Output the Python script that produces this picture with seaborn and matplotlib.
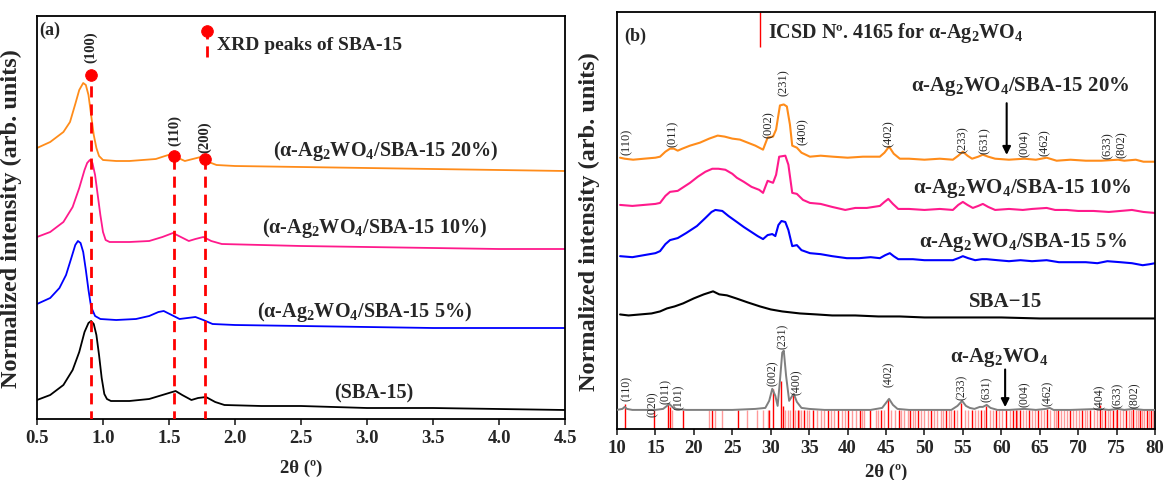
import matplotlib
matplotlib.use("Agg")
import matplotlib.pyplot as plt
import seaborn as sns

# ---------------- panel (a): low-angle XRD, 2theta 0.5-4.5 ----------------
a_x_20 = [0.5, 0.6, 0.7, 0.75, 0.79, 0.82, 0.85, 0.87, 0.89, 0.91, 0.93, 0.95, 0.97, 1.0, 1.1, 1.2,
          1.3, 1.4, 1.47, 1.52, 1.57, 1.62, 1.68, 1.74, 1.8, 1.86, 2.0, 2.5, 3.0, 3.5, 4.0, 4.5]
a_y_20 = [2.92, 2.98, 3.08, 3.18, 3.36, 3.50, 3.57, 3.55, 3.45, 3.25, 3.05, 2.92, 2.84, 2.80, 2.79, 2.79,
          2.80, 2.81, 2.84, 2.86, 2.82, 2.79, 2.81, 2.83, 2.78, 2.75, 2.74, 2.73, 2.72, 2.71, 2.70, 2.69]

a_x_10 = [0.5, 0.6, 0.7, 0.77, 0.82, 0.86, 0.88, 0.9, 0.92, 0.94, 0.96, 0.98, 1.0, 1.02, 1.05, 1.2,
          1.35, 1.45, 1.53, 1.59, 1.65, 1.7, 1.76, 1.82, 1.9, 2.2, 2.5, 3.0, 3.5, 4.0, 4.5]
a_y_10 = [2.03, 2.08, 2.18, 2.33, 2.52, 2.70, 2.77, 2.80, 2.77, 2.65, 2.45, 2.25, 2.08, 2.00, 1.98, 1.98,
          1.99, 2.03, 2.07, 2.03, 1.99, 2.01, 2.03, 1.99, 1.96, 1.95, 1.94, 1.93, 1.92, 1.91, 1.91]

a_x_5 = [0.5, 0.6, 0.67, 0.72, 0.76, 0.79, 0.81, 0.83, 0.85, 0.87, 0.89, 0.91, 0.94, 0.98, 1.1, 1.25,
         1.35, 1.42, 1.46, 1.52, 1.58, 1.64, 1.7, 1.76, 1.83, 2.0, 2.5, 3.0, 3.5, 4.5]
a_y_5 = [1.36, 1.42, 1.52, 1.65, 1.82, 1.95, 1.99, 1.97, 1.88, 1.70, 1.50, 1.33, 1.24, 1.21, 1.20, 1.21,
         1.24, 1.28, 1.29, 1.25, 1.21, 1.22, 1.23, 1.20, 1.16, 1.15, 1.14, 1.13, 1.12, 1.12]

a_x_sba = [0.5, 0.6, 0.7, 0.77, 0.82, 0.86, 0.89, 0.91, 0.93, 0.95, 0.97, 0.99, 1.01, 1.03, 1.06, 1.2,
           1.35, 1.45, 1.55, 1.6, 1.67, 1.72, 1.78, 1.85, 1.92, 2.2, 2.5, 3.0, 3.5, 4.0, 4.5]
a_y_sba = [0.40, 0.45, 0.55, 0.70, 0.88, 1.08, 1.17, 1.19, 1.16, 1.05, 0.85, 0.62, 0.46, 0.41, 0.39, 0.39,
           0.41, 0.45, 0.49, 0.45, 0.40, 0.42, 0.43, 0.38, 0.35, 0.34, 0.34, 0.32, 0.32, 0.31, 0.30]

a_peak_x = [0.91, 1.54, 1.77]
a_peak_y = [3.65, 2.84, 2.81]
a_peak_hkl = ["(100)", "(110)", "(200)"]
a_hkl_y = [3.94, 3.11, 3.04]

a_labels = ["(\u03b1-Ag$_2$WO$_4$/SBA-15 20%)", "(\u03b1-Ag$_2$WO$_4$/SBA-15 10%)",
            "(\u03b1-Ag$_2$WO$_4$/SBA-15 5%)", "(SBA-15)"]
a_label_x = [3.14, 3.06, 2.98, 3.05]
a_label_y = [2.90, 2.13, 1.29, 0.48]

# ---------------- panel (b): wide-angle XRD, 2theta 10-80 ----------------
b_x_20 = [10.4, 11.0, 12.1, 13.5, 15.0, 15.6, 16.3, 16.9, 17.4, 17.9, 18.5, 19.5, 20.8, 22.0, 23.1, 24.0,
          25.0, 26.0, 27.0, 28.0, 29.0, 29.6, 30.3, 30.7, 31.2, 31.7, 32.1, 32.5, 32.8, 33.4, 34.0, 35.1,
          36.5, 38.1, 40.0, 42.0, 44.2, 44.8, 45.4, 46.0, 46.8, 48.0, 50.0, 52.0, 53.7, 54.4, 55.0, 55.6,
          56.2, 57.0, 57.6, 58.3, 59.2, 61.0, 63.0, 64.5, 65.9, 67.2, 69.0, 71.0, 73.0, 75.2, 76.0, 77.5,
          78.5, 80.0]
b_y_20 = [2.92, 2.91, 2.90, 2.91, 2.92, 2.93, 2.98, 3.01, 3.01, 2.99, 3.01, 3.04, 3.07, 3.11, 3.14, 3.13,
          3.11, 3.10, 3.07, 3.04, 3.00, 3.12, 3.13, 3.20, 3.44, 3.45, 3.43, 3.25, 3.04, 3.02, 2.97, 2.93,
          2.94, 2.93, 2.92, 2.93, 2.93, 2.97, 3.03, 2.96, 2.91, 2.91, 2.90, 2.91, 2.90, 2.94, 2.98, 2.94,
          2.91, 2.93, 2.95, 2.93, 2.91, 2.90, 2.91, 2.90, 2.92, 2.89, 2.90, 2.89, 2.89, 2.90, 2.89, 2.90,
          2.88, 2.88]

b_x_10 = [10.4, 12.0, 13.5, 15.0, 15.6, 16.3, 16.9, 17.9, 18.7, 19.5, 20.5, 21.5, 22.4, 23.2, 24.1, 25.0,
          25.6, 26.5, 27.5, 28.5, 29.0, 29.6, 30.3, 30.7, 31.1, 31.9, 32.3, 32.8, 33.4, 34.2, 35.1, 36.5,
          38.0, 39.7, 41.0, 42.5, 44.2, 44.8, 45.3, 45.9, 46.6, 48.0, 50.0, 52.0, 53.7, 54.4, 55.0, 55.6,
          56.3, 57.0, 57.6, 58.3, 59.2, 61.0, 62.8, 64.0, 65.9, 67.0, 68.5, 70.0, 72.0, 74.0, 75.5, 77.0,
          78.5, 80.0]
b_y_10 = [2.45, 2.44, 2.45, 2.46, 2.47, 2.54, 2.58, 2.59, 2.63, 2.67, 2.73, 2.78, 2.81, 2.81, 2.80, 2.76,
          2.72, 2.68, 2.63, 2.60, 2.57, 2.69, 2.67, 2.75, 2.93, 2.94, 2.85, 2.57, 2.56, 2.50, 2.47, 2.46,
          2.43, 2.40, 2.42, 2.42, 2.44, 2.48, 2.51, 2.46, 2.41, 2.41, 2.40, 2.41, 2.40, 2.45, 2.48, 2.45,
          2.42, 2.44, 2.46, 2.43, 2.40, 2.41, 2.40, 2.41, 2.42, 2.40, 2.40, 2.39, 2.39, 2.38, 2.39, 2.40,
          2.38, 2.37]

b_x_5 = [10.4, 12.0, 13.5, 15.0, 15.6, 16.3, 16.9, 17.9, 19.0, 20.4, 21.5, 22.3, 22.8, 23.7, 24.5, 25.6,
         26.5, 27.5, 28.3, 29.0, 29.6, 30.2, 30.6, 31.0, 31.4, 31.9, 32.3, 32.8, 33.4, 34.0, 35.1, 36.5,
         38.0, 39.9, 41.5, 43.0, 44.2, 44.9, 45.5, 46.0, 46.6, 48.5, 50.0, 52.0, 53.7, 54.4, 55.0, 55.7,
         56.6, 57.5, 58.1, 59.5, 61.0, 62.5, 64.0, 65.9, 67.5, 69.2, 71.0, 72.5, 73.8, 75.5, 77.0, 78.4,
         79.3, 80.0]
b_y_5 = [1.94, 1.93, 1.95, 1.97, 1.99, 2.06, 2.10, 2.12, 2.17, 2.24, 2.32, 2.38, 2.40, 2.39, 2.34, 2.28,
         2.23, 2.18, 2.14, 2.11, 2.15, 2.16, 2.14, 2.25, 2.29, 2.28, 2.20, 2.04, 2.05, 2.00, 1.97, 1.96,
         1.94, 1.92, 1.92, 1.93, 1.92, 1.95, 1.97, 1.94, 1.91, 1.91, 1.90, 1.90, 1.90, 1.92, 1.94, 1.92,
         1.90, 1.91, 1.91, 1.90, 1.89, 1.90, 1.89, 1.90, 1.88, 1.88, 1.88, 1.87, 1.89, 1.88, 1.87, 1.85,
         1.86, 1.87]

b_x_sba = [10.4, 11.5, 13.0, 14.5, 15.6, 16.5, 17.5, 18.6, 20.0, 21.3, 22.5, 23.3, 24.3, 25.5, 27.0, 28.6,
           30.0, 31.5, 33.8, 36.0, 38.0, 41.0, 44.0, 46.8, 50.0, 55.0, 60.0, 65.0, 70.0, 75.0, 80.0]
b_y_sba = [1.36, 1.35, 1.36, 1.37, 1.39, 1.42, 1.44, 1.47, 1.52, 1.56, 1.59, 1.56, 1.55, 1.52, 1.48, 1.44,
           1.41, 1.39, 1.37, 1.36, 1.35, 1.35, 1.34, 1.34, 1.33, 1.33, 1.33, 1.32, 1.32, 1.32, 1.32]

b_x_ref = [10.0, 10.7, 11.0, 11.3, 12.0, 14.0, 15.0, 16.0, 16.5, 16.8, 17.2, 17.7, 19.0, 22.0, 25.0, 28.0,
           29.3, 29.8, 30.2, 30.6, 30.9, 31.2, 31.5, 31.7, 32.0, 32.4, 32.8, 33.0, 33.4, 34.0, 35.0, 37.0,
           40.0, 43.0, 44.5, 45.0, 45.4, 45.9, 46.5, 48.0, 51.0, 53.5, 54.3, 54.9, 55.4, 55.9, 56.5, 57.2,
           57.6, 58.1, 58.6, 59.5, 61.0, 63.0, 64.5, 65.8, 66.3, 66.8, 69.0, 72.8, 74.0, 75.2, 76.0, 77.2,
           78.5, 80.0]
b_y_ref = [0.41, 0.42, 0.44, 0.42, 0.41, 0.41, 0.41, 0.42, 0.45, 0.47, 0.44, 0.42, 0.41, 0.41, 0.41, 0.42,
           0.43, 0.50, 0.62, 0.55, 0.45, 0.70, 0.98, 1.00, 0.75, 0.50, 0.55, 0.57, 0.49, 0.43, 0.42, 0.41,
           0.41, 0.41, 0.43, 0.48, 0.52, 0.46, 0.42, 0.41, 0.41, 0.41, 0.45, 0.50, 0.45, 0.43, 0.42, 0.44,
           0.44, 0.46, 0.43, 0.41, 0.41, 0.42, 0.41, 0.42, 0.43, 0.41, 0.41, 0.42, 0.41, 0.42, 0.41, 0.42,
           0.41, 0.41]

# ICSD 4165 reference sticks
stick_strong_x = [11.0, 14.8, 16.6, 16.9, 18.6, 22.3, 25.8, 29.8, 30.3, 31.4, 31.6, 32.9, 33.5, 34.3,
                  35.5, 37.4, 38.7, 40.1, 41.6, 42.9, 44.4, 45.3, 46.7, 48.1, 49.2, 50.9, 52.8, 53.9,
                  54.8, 56.2, 57.4, 58.0, 59.3, 60.6, 61.5, 61.9, 62.4, 63.6, 64.8, 66.0, 67.4, 68.9,
                  70.5, 71.6, 72.8, 73.5, 74.6, 75.1, 76.2, 77.2, 78.0, 78.9, 79.5]
stick_strong_h = [0.47, 0.41, 0.47, 0.44, 0.41, 0.41, 0.41, 0.41, 0.62, 0.70, 0.45, 0.58, 0.41, 0.41,
                  0.41, 0.41, 0.41, 0.41, 0.41, 0.41, 0.41, 0.52, 0.41, 0.41, 0.41, 0.41, 0.41, 0.41,
                  0.48, 0.41, 0.41, 0.45, 0.41, 0.41, 0.41, 0.41, 0.41, 0.41, 0.41, 0.42, 0.41, 0.41,
                  0.41, 0.41, 0.46, 0.41, 0.41, 0.42, 0.41, 0.42, 0.41, 0.41, 0.41]
stick_faint_x = [17.1, 22.0, 22.7, 23.7, 26.9, 28.2, 29.0, 29.6, 31.8, 32.2, 32.5, 33.1, 33.7, 34.0,
                 34.7, 35.0, 36.0, 36.5, 36.9, 37.8, 38.2, 39.3, 39.7, 40.6, 41.1, 41.9, 42.2, 43.7,
                 44.0, 44.7, 45.7, 46.2, 47.0, 47.4, 47.9, 48.5, 48.8, 49.6, 50.0, 50.4, 51.3, 51.7,
                 52.1, 52.4, 53.2, 53.5, 54.2, 55.3, 55.7, 56.6, 57.0, 57.8, 58.5, 58.9, 59.7, 60.1,
                 61.1, 62.0, 62.8, 63.2, 64.0, 64.4, 65.2, 65.6, 66.4, 66.8, 67.1, 67.8, 68.2, 68.5,
                 69.3, 69.7, 70.1, 70.9, 71.2, 72.0, 72.4, 73.1, 73.9, 74.2, 74.9, 75.5, 75.8, 76.6,
                 76.9, 77.5, 77.8, 78.3, 78.6, 79.2, 79.8]

b_top_hkl = ["(110)", "(011)", "(002)", "(231)", "(400)", "(402)", "(233)", "(631)", "(004)",
             "(462)", "(633)", "(802)"]
b_top_hkl_x = [11.3, 17.2, 29.8, 31.7, 34.2, 45.4, 55.0, 57.8, 63.0, 65.6, 73.8, 75.7]
b_top_hkl_y = [3.09, 3.17, 3.26, 3.68, 3.19, 3.17, 3.11, 3.10, 3.07, 3.08, 3.05, 3.06]

b_bot_hkl = ["(110)", "(020)", "(011)", "(101)", "(002)", "(231)", "(400)", "(402)", "(233)",
             "(631)", "(004)", "(462)", "(404)", "(633)", "(802)"]
b_bot_hkl_x = [11.3, 14.7, 16.3, 18.0, 30.3, 31.6, 33.4, 45.4, 54.9, 58.1, 63.0, 66.1, 72.8, 75.2, 77.4]
b_bot_hkl_y = [0.63, 0.48, 0.60, 0.55, 0.78, 1.15, 0.70, 0.77, 0.64, 0.62, 0.58, 0.58, 0.55, 0.56, 0.57]

b_labels = ["\u03b1-Ag$_2$WO$_4$/SBA-15 20%", "\u03b1-Ag$_2$WO$_4$/SBA-15 10%",
            "\u03b1-Ag$_2$WO$_4$/SBA-15 5%", "SBA\u221215", "\u03b1-Ag$_2$WO$_4$"]
b_label_x = [62.4, 62.7, 62.8, 60.5, 59.8]
b_label_y = [3.64, 2.62, 2.09, 1.49, 0.94]

ORANGE = "#ff8c1a"
PINK = "#ff1a8c"
BLUE = "#0000ff"
BLACK = "#000000"
RED = "#ff0000"

sns.set_theme(style="ticks")
plt.rcParams["font.family"] = ["Liberation Serif", "DejaVu Serif"]
plt.rcParams["font.weight"] = "bold"
plt.rcParams["mathtext.fontset"] = "custom"
plt.rcParams["mathtext.rm"] = "Liberation Serif:bold"
plt.rcParams["mathtext.it"] = "Liberation Serif:bold:italic"
plt.rcParams["mathtext.bf"] = "Liberation Serif:bold"

fig = plt.figure(figsize=(11.68, 4.81), dpi=100)
# axes boxes in figure fractions (left, bottom, width, height)
ax_a = fig.add_axes([37 / 1168, 61 / 481, 528 / 1168, 403 / 481])
ax_b = fig.add_axes([617 / 1168, 51 / 481, 538 / 1168, 417 / 481])

# ---- panel (a) ----
for xs, ys, c in [(a_x_20, a_y_20, ORANGE), (a_x_10, a_y_10, PINK),
                  (a_x_5, a_y_5, BLUE), (a_x_sba, a_y_sba, BLACK)]:
    sns.lineplot(x=xs, y=ys, color=c, lw=1.3, sort=False, ax=ax_a)

ax_a.vlines(a_peak_x, 0, a_peak_y, colors=RED, linestyles=(0, (4, 2.5)), lw=2, zorder=4)
sns.scatterplot(x=a_peak_x, y=a_peak_y, color=RED, edgecolor=RED, s=70, zorder=5, ax=ax_a)
for hx, hy, t in zip(a_peak_x, a_hkl_y, a_peak_hkl):
    ax_a.text(hx, hy, t, rotation=90, ha="center", va="center", fontsize=10.5, fontweight="bold")
for lx, ly, t in zip(a_label_x, a_label_y, a_labels):
    ax_a.text(lx, ly, t, ha="center", va="center", fontsize=14.5, fontweight="bold")

# legend-like marker for SBA-15 peaks
ax_a.vlines([1.79], 3.83, 4.09, colors=RED, linestyles=(0, (4, 2.5)), lw=2)
sns.scatterplot(x=[1.79], y=[4.09], color=RED, edgecolor=RED, s=70, zorder=5, ax=ax_a)
ax_a.text(1.86, 3.96, "XRD peaks of SBA-15", ha="left", va="center", fontsize=14, fontweight="bold")
ax_a.text(0.52, 4.11, "(a)", ha="left", va="center", fontsize=13, fontweight="bold")

ax_a.set_xlim(0.5, 4.5)
ax_a.set_ylim(0.21, 4.24)
ax_a.set_xticks([0.5, 1.0, 1.5, 2.0, 2.5, 3.0, 3.5, 4.0, 4.5])
ax_a.set_xticklabels([f"{v:.1f}" for v in ax_a.get_xticks()])

# ---- panel (b) ----
ax_b.vlines(stick_faint_x, 0, 0.41, colors="#ff9a9a", lw=1.0, zorder=1)
ax_b.vlines(stick_strong_x, 0, stick_strong_h, colors=RED, lw=1.0, zorder=2)
sns.lineplot(x=b_x_ref, y=b_y_ref, color="#7f7f7f", lw=1.4, sort=False, ax=ax_b, zorder=3)
for xs, ys, c in [(b_x_20, b_y_20, ORANGE), (b_x_10, b_y_10, PINK),
                  (b_x_5, b_y_5, BLUE), (b_x_sba, b_y_sba, BLACK)]:
    sns.lineplot(x=xs, y=ys, color=c, lw=1.5, sort=False, ax=ax_b)

for hx, hy, t in zip(b_top_hkl_x, b_top_hkl_y, b_top_hkl):
    ax_b.text(hx, hy, t, rotation=90, ha="center", va="center", fontsize=9, fontweight="normal")
for hx, hy, t in zip(b_bot_hkl_x, b_bot_hkl_y, b_bot_hkl):
    ax_b.text(hx, hy, t, rotation=90, ha="center", va="center", fontsize=8.5, fontweight="normal")
for lx, ly, t in zip(b_label_x, b_label_y, b_labels):
    ax_b.text(lx, ly, t, ha="center", va="center", fontsize=15, fontweight="bold")

arrow = dict(arrowstyle="-|>", color="black", lw=1.5, mutation_scale=12)
ax_b.annotate("", xy=(60.7, 2.92), xytext=(60.7, 3.49), arrowprops=arrow)
ax_b.annotate("", xy=(60.5, 0.41), xytext=(60.5, 0.84), arrowprops=arrow)

ax_b.vlines([28.6], 4.02, 4.37, colors=RED, lw=1.0)
ax_b.text(29.6, 4.17, "ICSD N\u00ba. 4165 for \u03b1-Ag$_2$WO$_4$", ha="left", va="center",
          fontsize=14.5, fontweight="bold")
ax_b.text(11.0, 4.14, "(b)", ha="left", va="center", fontsize=13, fontweight="bold")

ax_b.set_xlim(10, 80)
ax_b.set_ylim(0.22, 4.37)
ax_b.set_xticks(list(range(10, 81, 5)))

for ax in (ax_a, ax_b):
    ax.set_yticks([])
    ax.tick_params(axis="x", direction="out", length=4, width=1.2, labelsize=13.5, pad=3)
    for lab in ax.get_xticklabels():
        lab.set_fontweight("bold")
    for sp in ax.spines.values():
        sp.set_visible(True)
        sp.set_linewidth(1.3)
        sp.set_color("black")
    ax.set_ylabel("Normalized intensity (arb. units)", fontsize=17.5, fontweight="bold")

ax_a.set_xlabel("2\u03b8 (\u00ba)", fontsize=13.5, fontweight="bold", labelpad=9)
ax_b.set_xlabel("2\u03b8 (\u00ba)", fontsize=13.5, fontweight="bold", labelpad=5)
ax_a.yaxis.set_label_coords(-0.029, 0.5)
ax_b.yaxis.set_label_coords(-0.032, 0.5)

fig.savefig("out.png", dpi=100)
